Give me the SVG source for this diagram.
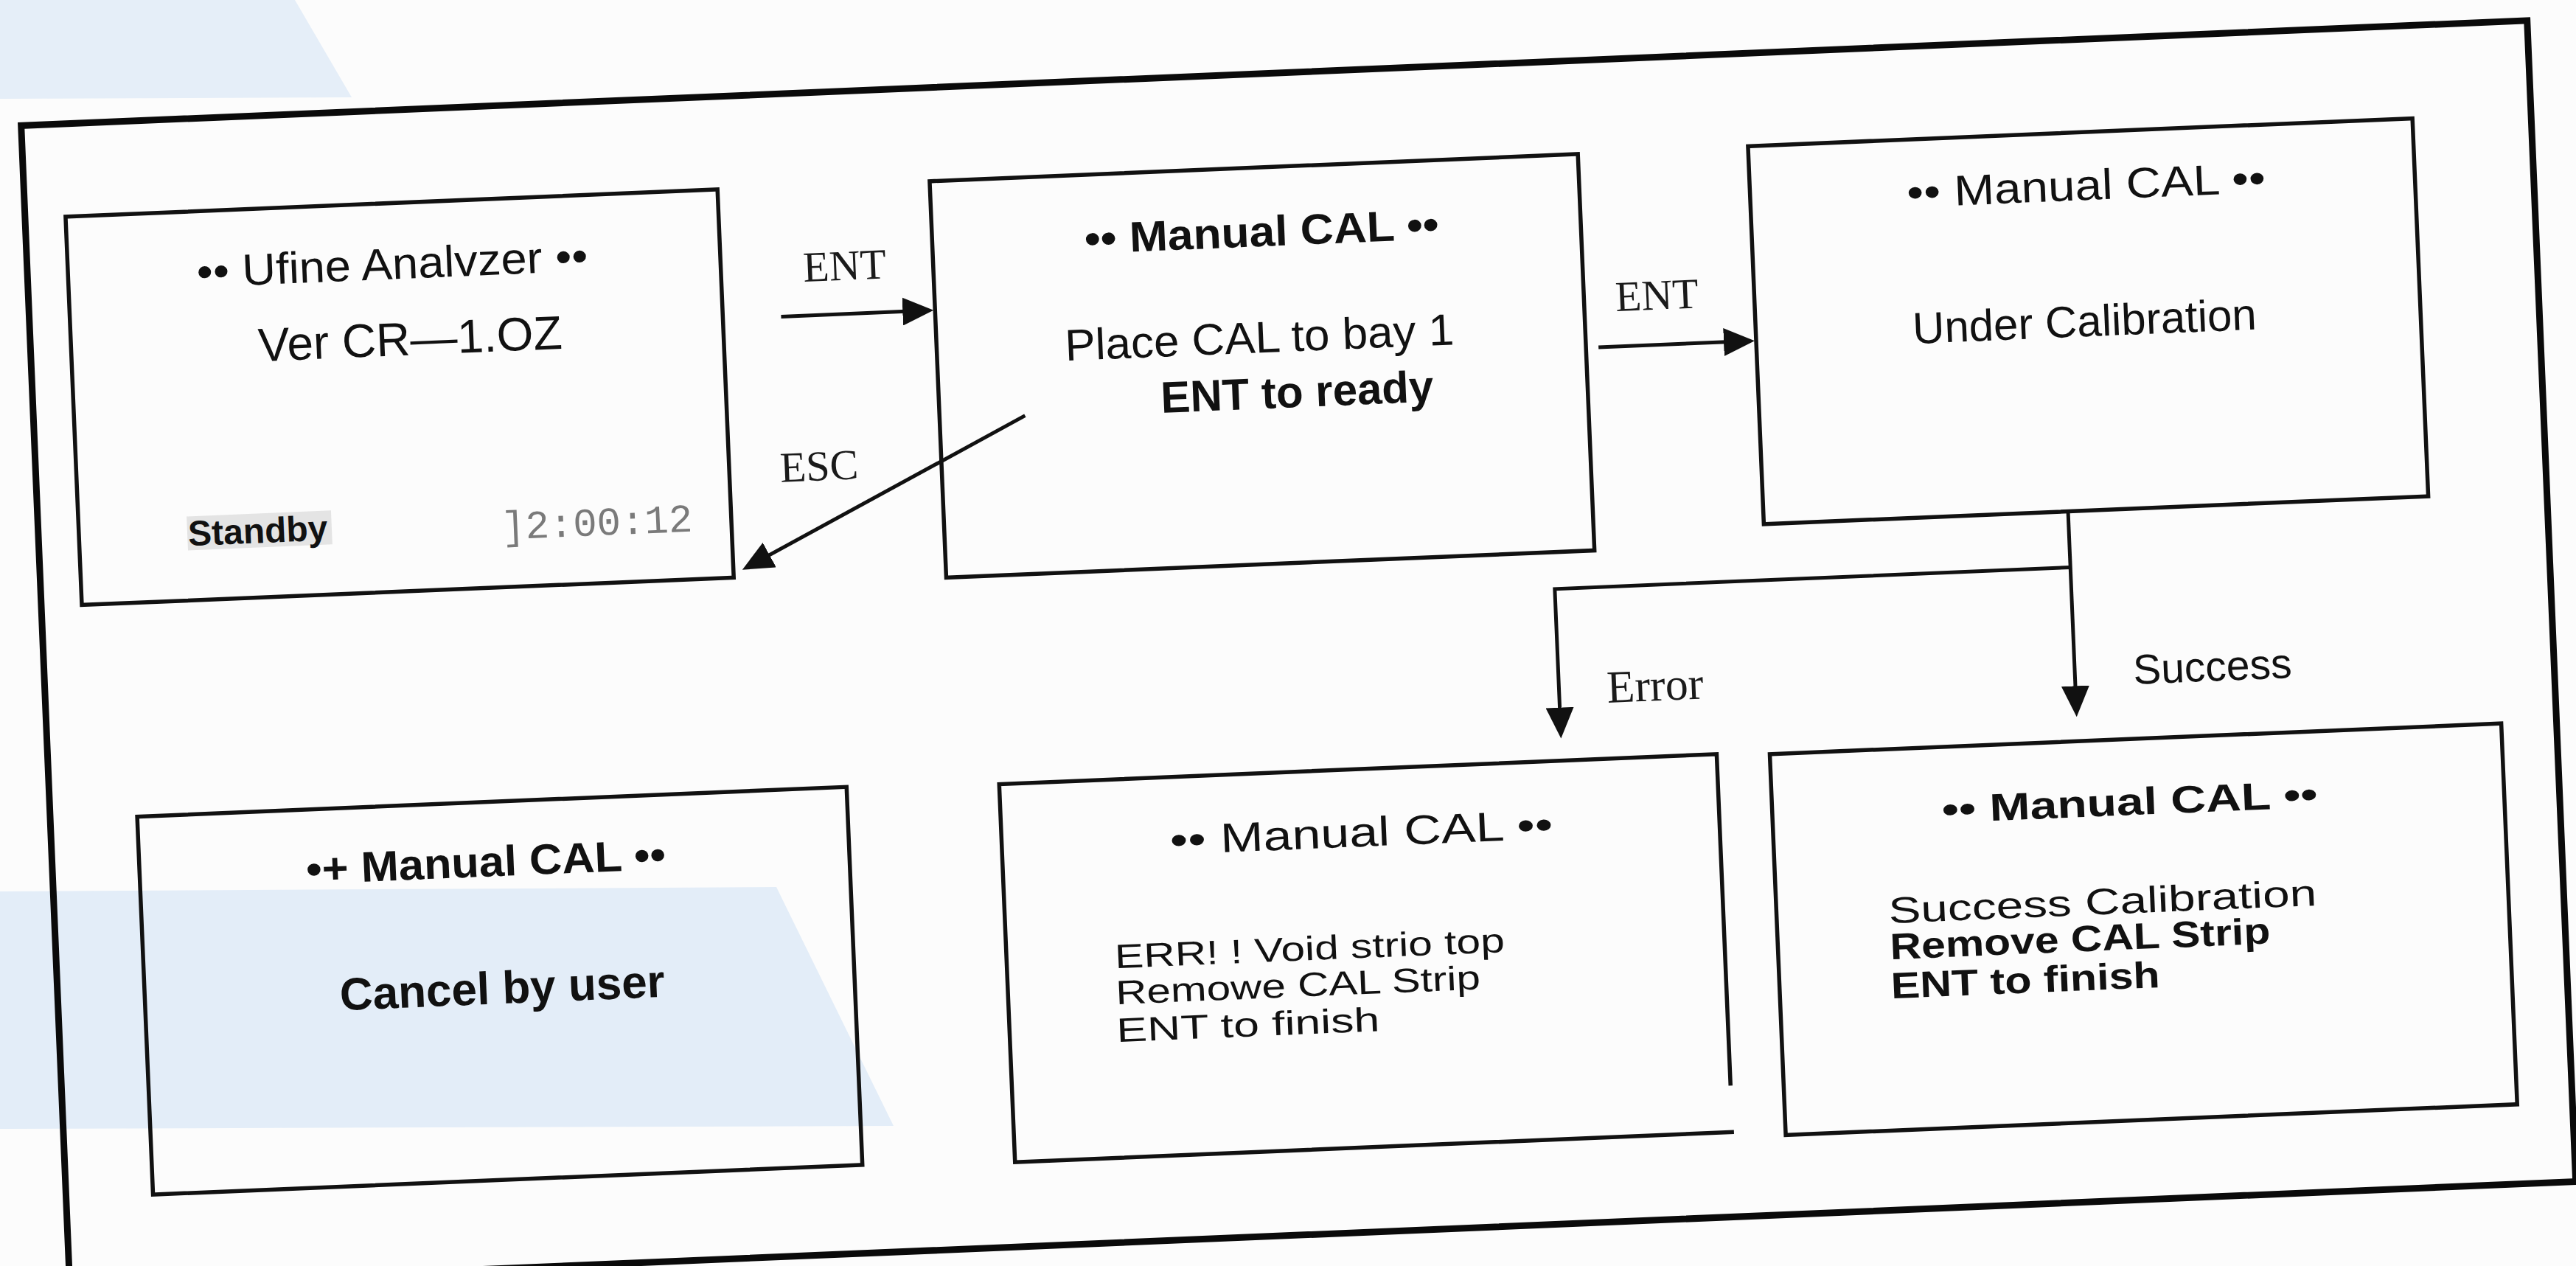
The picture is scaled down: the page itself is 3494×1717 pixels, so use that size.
<svg xmlns="http://www.w3.org/2000/svg" width="3494" height="1717" viewBox="0 0 3494 1717">
<style>
.box{fill:none;stroke:#111;stroke-width:5.5;stroke-linejoin:miter}
.frame{fill:none;stroke:#0a0a0a;stroke-width:9}
.con{fill:none;stroke:#111;stroke-width:5}
.sans{font-family:"Liberation Sans",Arial,sans-serif;fill:#111}
.b{font-weight:bold}
.serif{font-family:"Liberation Serif","Times New Roman",serif;fill:#1a1a1a}
.mid{text-anchor:middle}
</style>
<defs>
<marker id="ah" viewBox="0 0 42 38" refX="22" refY="19" markerWidth="42" markerHeight="38" markerUnits="userSpaceOnUse" orient="auto">
<path d="M0,0 L42,19 L0,38 z" fill="#111"/>
</marker>
</defs>
<rect x="0" y="0" width="3494" height="1717" fill="#fcfcfc"/>
<g id="backdrop">
<polygon points="0,0 400,0 477,132 0,134" fill="#e5eef8"/>
<polygon points="0,1209 1053,1203 1212,1527 0,1531" fill="#e3edf8"/>
</g>
<g transform="rotate(-2.4 1747 858)">
<rect id="frame" class="frame" x="59" y="99" width="3402" height="1576"/>

<g id="connectors">
<path class="con" d="M1078,401 H1265" marker-end="url(#ah)"/>
<path class="con" d="M1403,549 L1029,733" marker-end="url(#ah)"/>
<path class="con" d="M2184,489 H2376" marker-end="url(#ah)"/>
<path class="con" d="M2811,738 V997" marker-end="url(#ah)"/>
<path class="con" d="M2811,814 H2111 V997" marker-end="url(#ah)"/>
<text class="serif mid" x="1167" y="355" font-size="58">ENT</text>
<text class="serif mid" x="1121" y="625" font-size="58">ESC</text>
<text class="serif mid" x="2266" y="441" font-size="58">ENT</text>
<text class="serif" x="2176" y="971" font-size="62">Error</text>
<text class="sans" x="2890" y="976" font-size="57">Success</text>
</g>

<g id="node-standby">
<rect class="box" x="114" y="225" width="885" height="527"/>
<text class="sans mid" x="554" y="328" font-size="60" textLength="531" lengthAdjust="spacingAndGlyphs">•• Ufine Analvzer ••</text>
<text class="sans mid" x="574" y="432" font-size="64">Ver CR—1.OZ</text>
<rect x="261" y="638" width="196" height="46" fill="#e4e4e4"/>
<text class="sans b" x="262" y="678" font-size="48">Standby</text>
<text x="687" y="687" font-size="54" font-family="'Liberation Mono','Courier New',monospace" fill="#7a7a7a">]2:00:12</text>
</g>

<g id="node-place">
<rect class="box" x="1287" y="226" width="880" height="538"/>
<text class="sans b mid" x="1734" y="333" font-size="58" textLength="481" lengthAdjust="spacingAndGlyphs">•• Manual CAL ••</text>
<text class="sans mid" x="1725" y="477" font-size="60" textLength="528" lengthAdjust="spacingAndGlyphs">Place CAL to bay 1</text>
<text class="sans b mid" x="1773" y="553" font-size="60">ENT to ready</text>
</g>

<g id="node-under">
<rect class="box" x="2398" y="225" width="902" height="513"/>
<text class="sans mid" x="2854" y="317" font-size="58" textLength="487" lengthAdjust="spacingAndGlyphs">•• Manual CAL ••</text>
<text class="sans mid" x="2844" y="502" font-size="60">Under Calibration</text>
</g>

<g id="node-cancel">
<rect class="box" x="177" y="1042" width="963" height="513"/>
<text class="sans b mid" x="647" y="1143" font-size="58" textLength="488" lengthAdjust="spacingAndGlyphs">•+ Manual CAL ••</text>
<text class="sans b mid" x="662" y="1316" font-size="62">Cancel by user</text>
</g>

<g id="node-error">
<path class="box" d="M2321,1497 V1047 H1347 V1560 H2323"/>
<text class="sans mid" x="1835" y="1152" font-size="56" textLength="520" lengthAdjust="spacingAndGlyphs">•• Manual CAL ••</text>
<text class="sans" x="1494" y="1303" font-size="46" textLength="529" lengthAdjust="spacingAndGlyphs">ERR! ! Void strio top</text>
<text class="sans" x="1493" y="1352" font-size="46" textLength="495" lengthAdjust="spacingAndGlyphs">Remowe CAL Strip</text>
<text class="sans" x="1492" y="1403" font-size="46" textLength="357" lengthAdjust="spacingAndGlyphs">ENT to finish</text>
</g>

<g id="node-success">
<rect class="box" x="2393" y="1050" width="993" height="517"/>
<text class="sans b mid" x="2878" y="1153" font-size="52" textLength="510" lengthAdjust="spacingAndGlyphs">•• Manual CAL ••</text>
<text class="sans" x="2545" y="1286" font-size="50" textLength="581" lengthAdjust="spacingAndGlyphs">Success Calibration</text>
<text class="sans b" x="2545" y="1335" font-size="50" textLength="516" lengthAdjust="spacingAndGlyphs">Remove CAL Strip</text>
<text class="sans b" x="2544" y="1388" font-size="50" textLength="365" lengthAdjust="spacingAndGlyphs">ENT to finish</text>
</g>
</g>
</svg>
